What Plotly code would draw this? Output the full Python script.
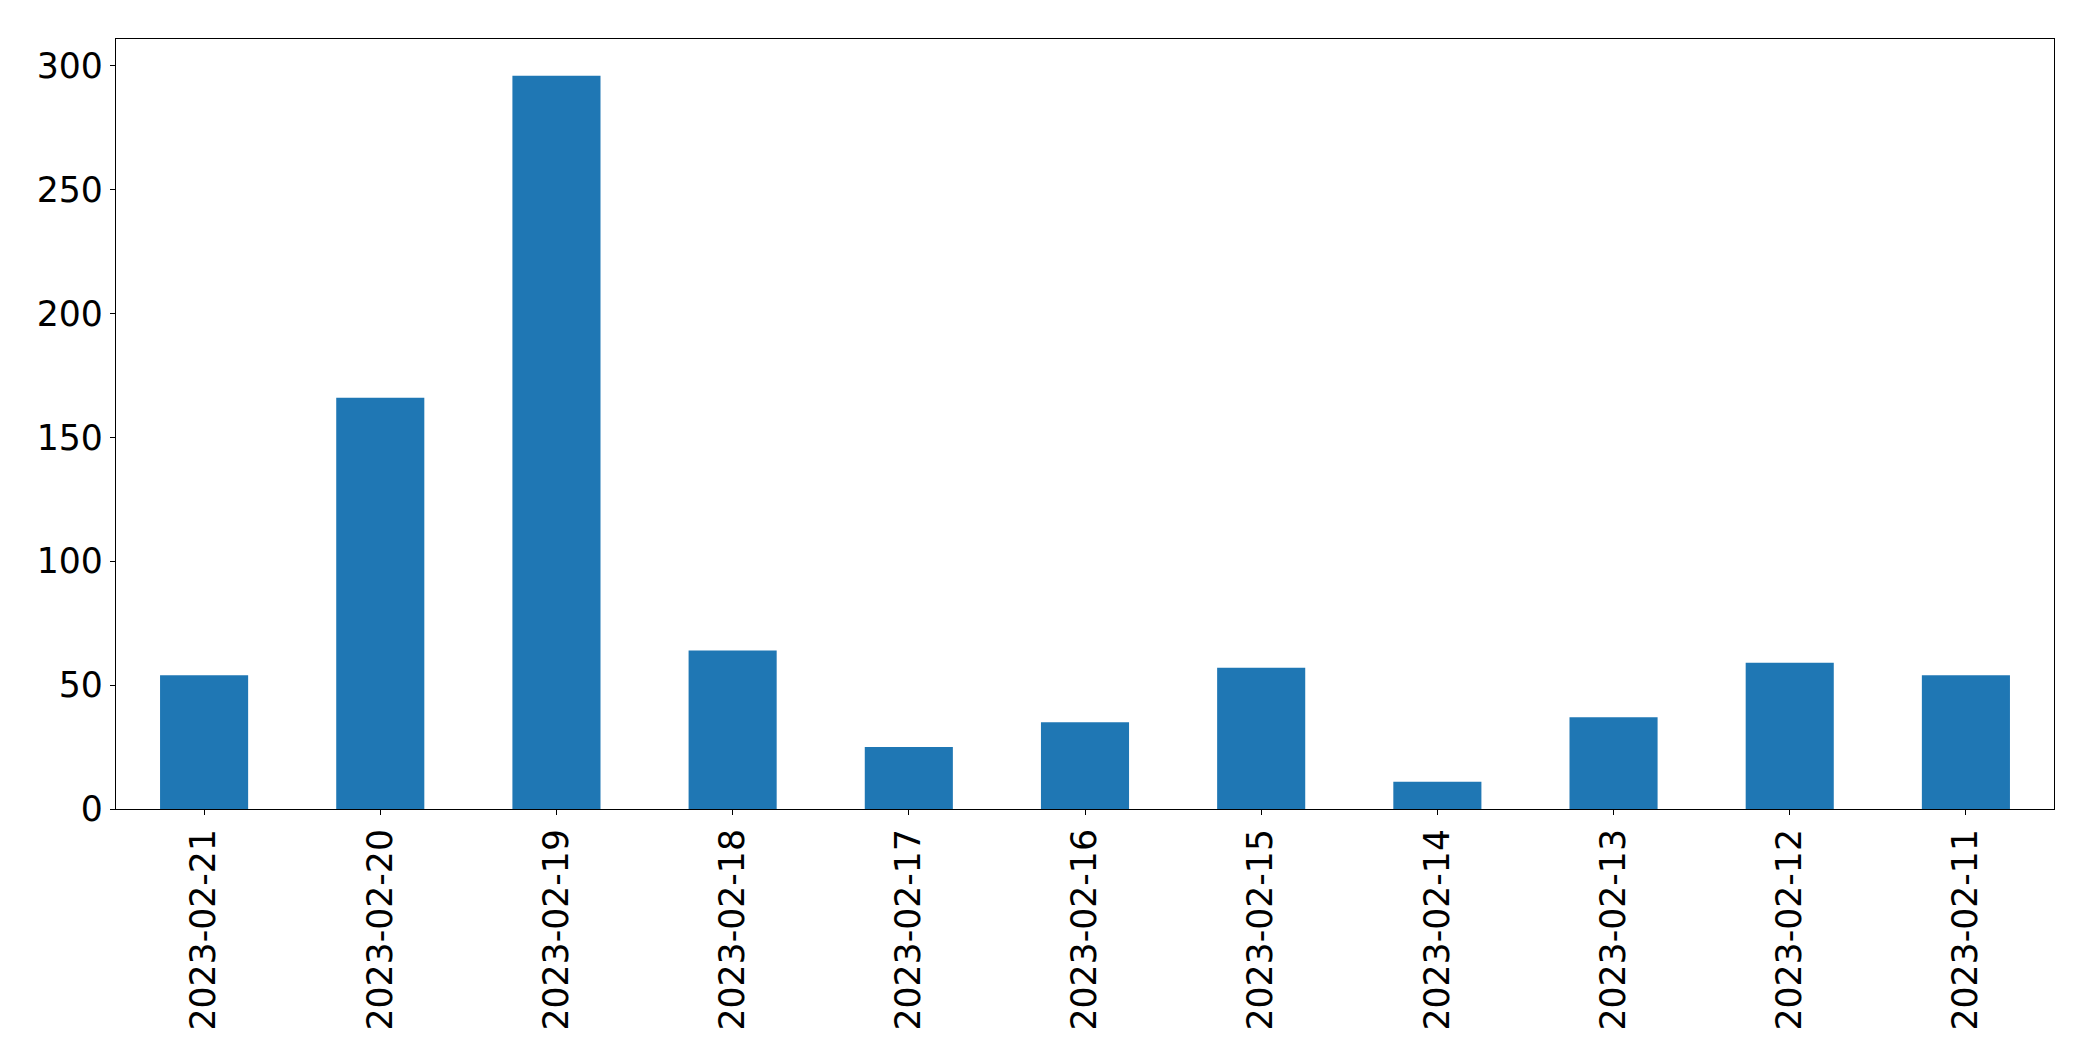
import plotly.graph_objects as go

dates = [
    "2023-02-21", "2023-02-20", "2023-02-19", "2023-02-18", "2023-02-17",
    "2023-02-16", "2023-02-15", "2023-02-14", "2023-02-13", "2023-02-12",
    "2023-02-11",
]
counts = [54, 166, 296, 64, 25, 35, 57, 11, 37, 59, 54]
y_ticks = [0, 50, 100, 150, 200, 250, 300]

fig = go.Figure()
fig.add_trace(
    go.Bar(
        x=dates,
        y=counts,
        width=0.5,
        marker=dict(color="#1f77b4", line=dict(width=0)),
    )
)

axis_style = dict(
    showline=True,
    linecolor="black",
    linewidth=1.3,
    mirror=True,
    ticks="outside",
    ticklen=5,
    tickwidth=1.3,
    tickcolor="black",
    showgrid=False,
    zeroline=False,
    tickfont=dict(family="DejaVu Sans", size=34.7, color="black"),
)

fig.update_xaxes(
    type="category",
    range=[-0.5, len(dates) - 0.5],
    tickangle=-90,
    **axis_style,
)
fig.update_yaxes(
    range=[0, max(counts) * 1.05],
    tickvals=y_ticks,
    **axis_style,
)
fig.update_layout(
    width=2093,
    height=1061,
    margin=dict(l=116, r=39, t=39, b=252),
    plot_bgcolor="white",
    paper_bgcolor="white",
    showlegend=False,
)

# drop the browser's default body margin so the figure sits at (0, 0)
fig.write_html(
    "out.html",
    config={"displayModeBar": False},
    post_script="document.body.style.margin = '0';",
)
